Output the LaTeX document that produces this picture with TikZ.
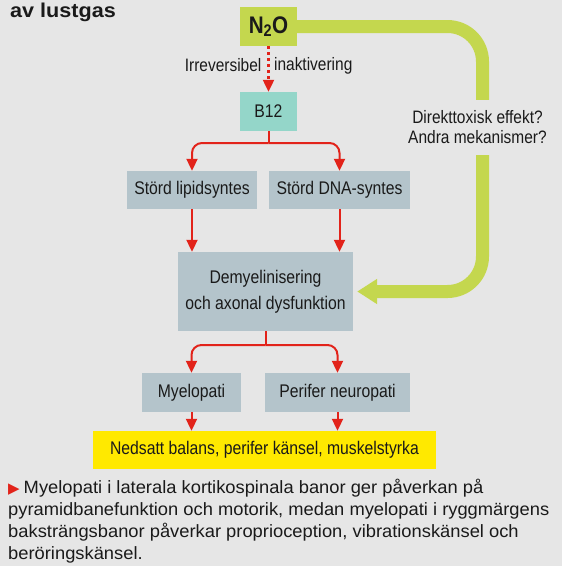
\documentclass[tikz,border=0pt]{standalone}
\usepackage{fontspec}
\setmainfont{Liberation Sans}
\newfontfamily\condf[FakeStretch=0.86]{Liberation Sans}
\newfontfamily\capf[FakeStretch=1.03]{Liberation Sans}
\newfontfamily\titf[FakeStretch=1.08]{Liberation Sans}
\newfontfamily\djv{DejaVu Sans}
\usetikzlibrary{arrows.meta}
\definecolor{bg}{HTML}{E6E6E6}
\definecolor{ngreen}{HTML}{C4D74E}
\definecolor{teal}{HTML}{94D6C9}
\definecolor{boxgray}{HTML}{B4C4CB}
\definecolor{yel}{HTML}{FFE900}
\definecolor{cred}{HTML}{E2231A}
\definecolor{txt}{HTML}{1A1A1A}
\begin{document}
\begin{tikzpicture}[x=1pt,y=-1pt,
  tbox/.style={rectangle, fill=boxgray, inner sep=0pt, text=txt, align=center,
    font=\condf\fontsize{18.3}{20}\selectfont},
  rline/.style={draw=cred, line width=2pt},
  rarr/.style={rline, -{Triangle[length=12pt 0 0,width=11pt 0 0]}},
  gline/.style={draw=ngreen, line width=13pt, rounded corners=35pt,
    -{Triangle[length=20pt 0 0,width=24pt 0 0]}},
  lbl/.style={text=txt, font=\condf\fontsize{18}{20}\selectfont}
]
\useasboundingbox[fill=bg] (0,0) rectangle (562,566);

% title
\node[anchor=base west, inner sep=0pt, text=txt, font=\titf\bfseries\fontsize{20}{22}\selectfont] (title) at (10,17.3) {av lustgas};

% nodes
\node[tbox, fill=ngreen, minimum width=57pt, minimum height=39pt,
  font=\condf\bfseries\fontsize{24}{26}\selectfont] (n2o) at (268.5,26.5) {N\textsubscript{2}O};
\node[tbox, fill=teal, minimum width=57pt, minimum height=39pt] (b12) at (268.5,111.5) {B12};
\node[tbox, minimum width=130pt, minimum height=38pt] (lipid) at (192,190) {Störd lipidsyntes};
\node[tbox, minimum width=141pt, minimum height=38pt] (dna) at (339.5,190) {Störd DNA-syntes};
\node[tbox, minimum width=175pt, minimum height=79pt,
  font=\condf\fontsize{18.3}{26}\selectfont] (demyel) at (265.5,291.5) {Demyelinisering\\och axonal dysfunktion};
\node[tbox, minimum width=99pt, minimum height=39pt] (myel) at (191.5,392.5) {Myelopati};
\node[tbox, minimum width=145pt, minimum height=39pt] (perif) at (337.5,392.5) {Perifer neuropati};
\node[tbox, fill=yel, minimum width=343pt, minimum height=38pt] (nedsatt) at (264.5,450) {Nedsatt balans, perifer känsel, muskelstyrka};

% green connector
\draw[gline, shorten >=4pt] (n2o.east) -- (482.5,26.5) -- (482.5,291.5) -- (demyel.east);
\node[lbl, fill=bg, align=center, minimum height=55pt, inner xsep=2pt, inner ysep=0pt,
  font=\condf\fontsize{18}{20}\selectfont] (direkt) at (477.5,127.5) {Direkttoxisk effekt?\\Andra mekanismer?};

% dashed red
\draw[rarr, line width=2.2pt, dash pattern=on 3pt off 3pt] (n2o.south) -- (b12.north)
  node[lbl, pos=0.42, anchor=east, inner xsep=6pt] {Irreversibel}
  node[lbl, pos=0.42, anchor=west, inner xsep=4.5pt] {inaktivering};

% branches 1
\coordinate (j1) at (268.5,143);
\draw[rline] (b12.south) -- (j1);
\draw[rarr, rounded corners=10pt] (j1) -| (lipid.north);
\draw[rarr, rounded corners=10pt] (j1) -| (dna.north);
\draw[rarr] (lipid.south) -- (lipid.south |- demyel.north);
\draw[rarr] (dna.south) -- (dna.south |- demyel.north);

% branches 2
\coordinate (j2) at (265.5,345);
\draw[rline] (demyel.south) -- (j2);
\draw[rarr, rounded corners=10pt] (j2) -| (myel.north);
\draw[rarr, rounded corners=10pt] (j2) -| (perif.north);
\draw[rarr] (myel.south) -- (myel.south |- nedsatt.north);
\draw[rarr] (perif.south) -- (perif.south |- nedsatt.north);

% caption
\node[anchor=north west, inner sep=0pt, align=left, text=txt,
  font=\capf\fontsize{17.8}{22}\selectfont] (caption) at (8,479)
{{\color{cred}\djv\fontsize{15}{15}\selectfont ▶}\kern4pt Myelopati i laterala kortikospinala banor ger påverkan på\\
pyramidbanefunktion och motorik, medan myelopati i ryggmärgens\\
baksträngsbanor påverkar proprioception, vibrationskänsel och\\
beröringskänsel.};
\end{tikzpicture}
\end{document}
